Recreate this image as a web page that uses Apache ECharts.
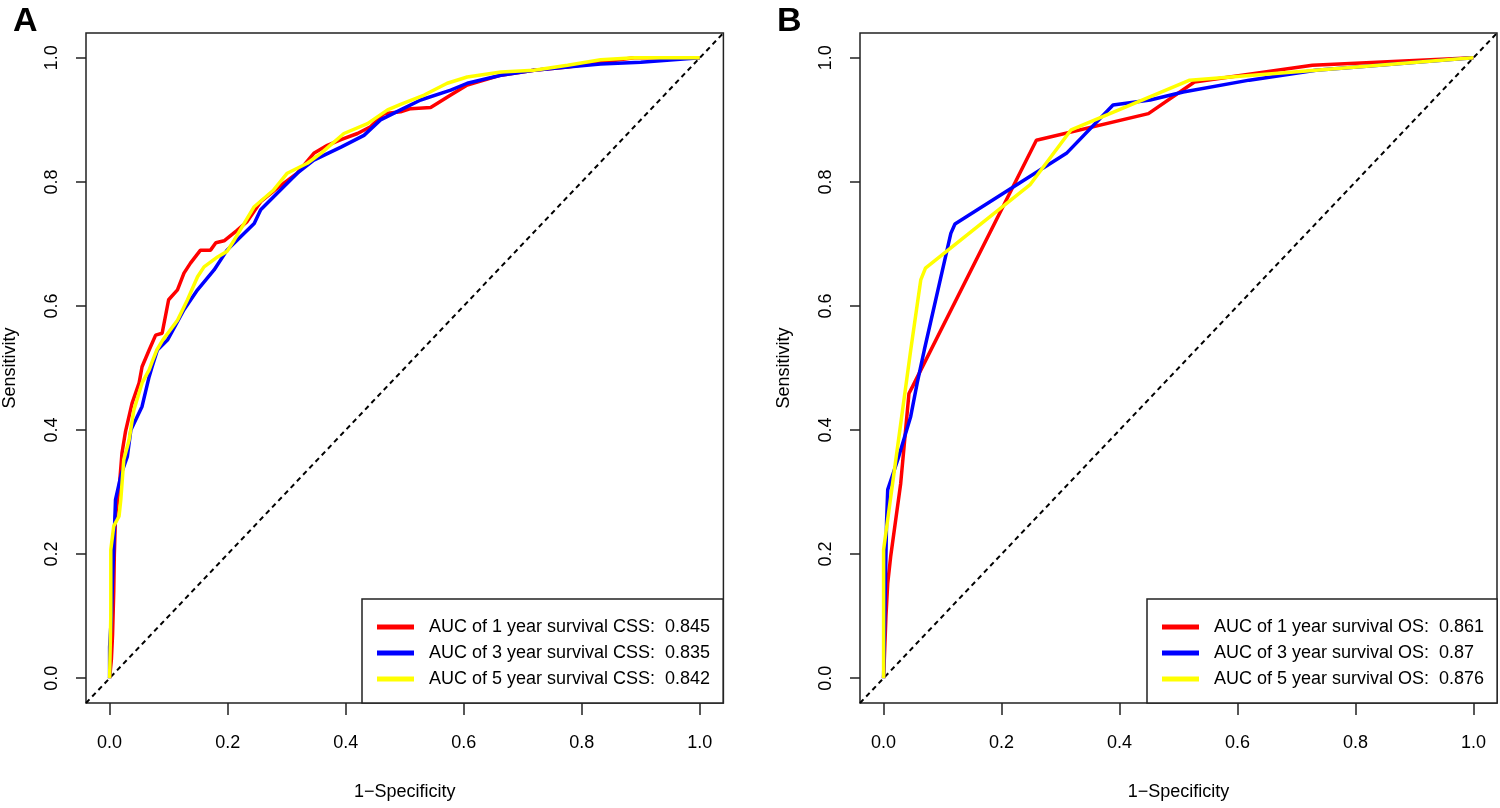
<!DOCTYPE html>
<html>
<head>
<meta charset="utf-8">
<script src="https://cdn.jsdelivr.net/npm/echarts@6/dist/echarts.min.js"></script>
<style>
html,body{margin:0;padding:0;background:#fff;}
#chart{width:1500px;height:808px;}
</style>
</head>
<body>
<div id="chart"></div>
<script>
// Tick values shared by both panels
const tickValues = [0, 0.2, 0.4, 0.6, 0.8, 1.0];
const diagonal = [[-0.04, -0.04], [1.04, 1.04]];

// Panel A: CSS ROC curves [1-specificity, sensitivity]
const css1 = [[0,0],[0.003,0.03],[0.005,0.07],[0.007,0.14],[0.008,0.2],[0.010,0.261],[0.016,0.304],[0.021,0.363],[0.027,0.398],[0.038,0.443],[0.050,0.476],[0.055,0.502],[0.067,0.529],[0.078,0.553],[0.089,0.556],[0.100,0.610],[0.115,0.626],[0.126,0.653],[0.137,0.669],[0.154,0.690],[0.171,0.690],[0.180,0.702],[0.194,0.705],[0.216,0.722],[0.233,0.736],[0.256,0.768],[0.284,0.790],[0.318,0.814],[0.346,0.846],[0.369,0.859],[0.392,0.868],[0.420,0.878],[0.442,0.889],[0.465,0.910],[0.493,0.913],[0.510,0.918],[0.544,0.920],[0.578,0.940],[0.606,0.956],[0.663,0.972],[0.719,0.980],[0.776,0.985],[0.832,0.993],[0.889,1.0],[1,1]];
const css3 = [[0,0],[0.0,0.05],[0.003,0.10],[0.005,0.16],[0.007,0.207],[0.010,0.288],[0.020,0.33],[0.030,0.357],[0.036,0.400],[0.055,0.438],[0.067,0.486],[0.072,0.502],[0.081,0.529],[0.098,0.545],[0.126,0.594],[0.149,0.626],[0.177,0.658],[0.199,0.690],[0.216,0.706],[0.245,0.733],[0.256,0.755],[0.278,0.776],[0.318,0.814],[0.346,0.835],[0.392,0.856],[0.431,0.875],[0.459,0.900],[0.493,0.916],[0.527,0.932],[0.578,0.948],[0.606,0.959],[0.663,0.972],[0.719,0.980],[0.776,0.985],[0.832,0.990],[0.900,0.993],[1,1]];
const css5 = [[0,0],[0.002,0.10],[0.002,0.207],[0.007,0.245],[0.016,0.261],[0.019,0.288],[0.024,0.352],[0.033,0.384],[0.041,0.432],[0.055,0.476],[0.067,0.497],[0.072,0.510],[0.080,0.529],[0.090,0.545],[0.115,0.577],[0.132,0.610],[0.149,0.647],[0.160,0.663],[0.183,0.679],[0.199,0.688],[0.211,0.706],[0.245,0.760],[0.278,0.787],[0.301,0.814],[0.335,0.830],[0.358,0.846],[0.397,0.878],[0.437,0.894],[0.471,0.916],[0.493,0.925],[0.533,0.940],[0.572,0.959],[0.606,0.969],[0.663,0.977],[0.719,0.980],[0.776,0.988],[0.832,0.997],[0.889,1.0],[1,1]];

// Panel B: OS ROC curves
const os1 = [[0,0],[0.004,0.10],[0.007,0.153],[0.012,0.196],[0.029,0.314],[0.043,0.459],[0.049,0.470],[0.259,0.867],[0.449,0.910],[0.527,0.961],[0.727,0.988],[1,1]];
const os3 = [[0,0],[0.003,0.15],[0.005,0.25],[0.007,0.304],[0.024,0.352],[0.046,0.422],[0.057,0.476],[0.069,0.529],[0.114,0.717],[0.121,0.732],[0.310,0.846],[0.389,0.924],[0.452,0.932],[0.508,0.945],[0.620,0.964],[0.733,0.980],[1,1]];
const os5 = [[0,0],[0,0.207],[0.046,0.529],[0.063,0.642],[0.071,0.661],[0.248,0.795],[0.318,0.884],[0.519,0.964],[1,1]];

const namesA = ['AUC of 1 year survival CSS:  0.845', 'AUC of 3 year survival CSS:  0.835', 'AUC of 5 year survival CSS:  0.842'];
const namesB = ['AUC of 1 year survival OS:  0.861', 'AUC of 3 year survival OS:  0.87', 'AUC of 5 year survival OS:  0.876'];
const colors = ['#ff0000', '#0000ff', '#ffff00'];

const FONT = 'Liberation Sans, Arial, sans-serif';

function xAx(gi) {
  return {
    gridIndex: gi, type: 'value', min: -0.04, max: 1.04,
    name: '1\u2212Specificity', nameLocation: 'middle', nameGap: 80,
    nameTextStyle: {fontFamily: FONT, fontSize: 18, color: '#000'},
    axisLine: {show: false, onZero: false}, splitLine: {show: false},
    axisTick: {show: true, length: 12, customValues: tickValues, lineStyle: {color: '#222', width: 1.5}},
    axisLabel: {customValues: tickValues, margin: 31, fontFamily: FONT, fontSize: 18, color: '#000',
      formatter: v => v.toFixed(1)}
  };
}
function yAx(gi) {
  return {
    gridIndex: gi, type: 'value', min: -0.04, max: 1.04,
    name: 'Sensitivity', nameLocation: 'middle', nameGap: 67,
    nameTextStyle: {fontFamily: FONT, fontSize: 18, color: '#000'},
    axisLine: {show: false, onZero: false}, splitLine: {show: false},
    axisTick: {show: true, length: 10, customValues: tickValues, lineStyle: {color: '#222', width: 1.5}},
    axisLabel: {customValues: tickValues, margin: 25, rotate: 90, fontFamily: FONT, fontSize: 18, color: '#000',
      formatter: v => v.toFixed(1)}
  };
}
function lineS(name, data, color, gi) {
  return {name: name, type: 'line', xAxisIndex: gi, yAxisIndex: gi, data: data,
    showSymbol: false, symbol: 'none', animation: false, clip: true,
    itemStyle: {color: color}, lineStyle: {color: color, width: 3.5}, z: 3};
}
function diagS(gi) {
  return {name: 'diag' + gi, type: 'line', xAxisIndex: gi, yAxisIndex: gi, data: diagonal,
    showSymbol: false, symbol: 'none', animation: false,
    lineStyle: {color: '#000', width: 2, type: [5, 4]}, z: 2};
}
function legendBox(names, left, top, padRight) {
  return {
    data: names, orient: 'vertical', left: left, top: top,
    icon: 'rect', itemWidth: 37, itemHeight: 5, itemGap: 6,
    padding: [18, padRight, 14, 15],
    borderColor: '#222', borderWidth: 1.5, backgroundColor: '#fff',
    textStyle: {fontFamily: FONT, fontSize: 18, color: '#000', lineHeight: 20, padding: [0, 0, 0, 10]},
    selectedMode: false
  };
}

const chart = echarts.init(document.getElementById('chart'), null, {renderer: 'canvas'});
chart.setOption({
  backgroundColor: '#fff',
  animation: false,
  title: [
    {text: 'A', left: 8, top: 0, textStyle: {fontFamily: FONT, fontSize: 34, fontWeight: 'bold', color: '#000'}},
    {text: 'B', left: 772, top: 0, textStyle: {fontFamily: FONT, fontSize: 34, fontWeight: 'bold', color: '#000'}}
  ],
  grid: [
    {left: 85.4, top: 33, width: 638, height: 670, show: true, borderColor: '#222', borderWidth: 1.5, backgroundColor: 'transparent', containLabel: false},
    {left: 860, top: 33, width: 637, height: 670, show: true, borderColor: '#222', borderWidth: 1.5, backgroundColor: 'transparent', containLabel: false}
  ],
  xAxis: [xAx(0), xAx(1)],
  yAxis: [yAx(0), yAx(1)],
  legend: [legendBox(namesA, 362, 599, 13), legendBox(namesB, 1147, 599, 13)],
  series: [
    diagS(0),
    lineS(namesA[0], css1, colors[0], 0),
    lineS(namesA[1], css3, colors[1], 0),
    lineS(namesA[2], css5, colors[2], 0),
    diagS(1),
    lineS(namesB[0], os1, colors[0], 1),
    lineS(namesB[1], os3, colors[1], 1),
    lineS(namesB[2], os5, colors[2], 1)
  ]
});
</script>
</body>
</html>
